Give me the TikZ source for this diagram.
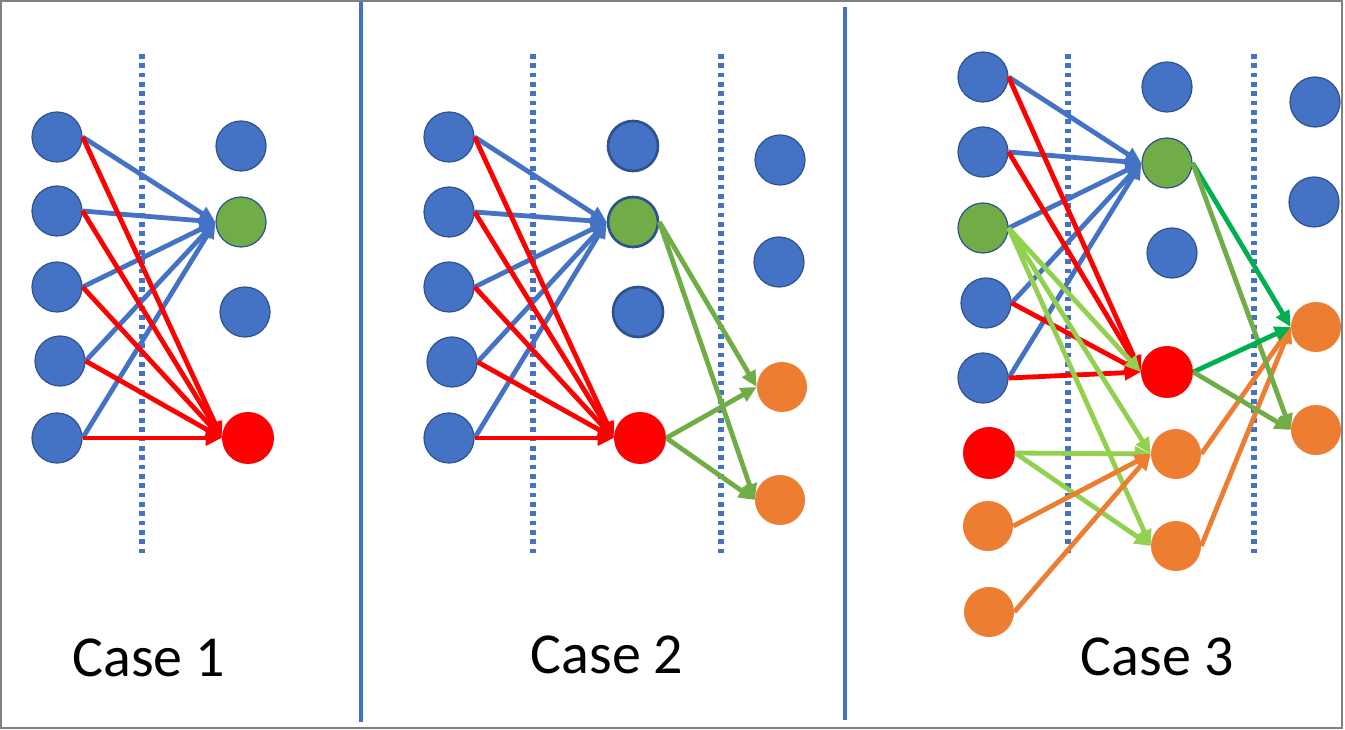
\documentclass[tikz,border=0pt]{standalone}
\usepackage{fontspec}
\setmainfont{Carlito}
\usetikzlibrary{arrows.meta}
\definecolor{nblue}{HTML}{4472C4}
\definecolor{nborder}{HTML}{2F528F}
\definecolor{ngreen}{HTML}{70AD47}
\definecolor{nred}{HTML}{FF0000}
\definecolor{norange}{HTML}{ED7D31}
\definecolor{lgreen}{HTML}{92D050}
\definecolor{dgreen}{HTML}{00B050}
\definecolor{framegray}{HTML}{808080}
\begin{document}
\begin{tikzpicture}[x=0.75pt,y=-0.75pt,
  neuron/.style={circle, minimum size=37.5pt, inner sep=0pt},
  bluen/.style={neuron, fill=nblue, draw=nborder, line width=0.9pt},
  bluethick/.style={neuron, fill=nblue, draw=nborder, line width=2pt},
  greenn/.style={neuron, fill=ngreen, draw=nborder, line width=0.9pt},
  greenthick/.style={neuron, fill=ngreen, draw=nborder, line width=2pt},
  redn/.style={neuron, fill=nred, minimum size=39pt},
  orangen/.style={neuron, fill=norange},
  arr/.style={line width=3.6pt, -{Triangle[length=12pt,width=11pt]}},
  barr/.style={arr, draw=nblue},
  rarr/.style={arr, draw=nred},
  garr/.style={arr, draw=ngreen},
  lgarr/.style={arr, draw=lgreen},
  dgarr/.style={arr, draw=dgreen},
  oarr/.style={arr, draw=norange},
  dotline/.style={draw=nblue, line width=3.9pt, dash pattern=on 3.6pt off 3.4pt},
  divider/.style={draw=nblue, line width=2.6pt},
  caption/.style={font=\fontsize{43.5pt}{50pt}\selectfont, anchor=base, inner sep=0pt},
]
\useasboundingbox (0,0) rectangle (1345,730);
\draw[framegray, line width=1.5pt] (1,1) rectangle (1342,728);

% dividers
\draw[divider] (361,2) -- (361,722);
\draw[divider] (845,7) -- (845,720);

% dotted lines
\foreach \x in {142,533,721,1068,1254}
  \draw[dotline] (\x,54) -- (\x,554);

% ---------- Case 1 ----------
\node[bluen] (c1a1) at (57,137) {};
\node[bluen] (c1a2) at (57,211) {};
\node[bluen] (c1a3) at (57,287) {};
\node[bluen] (c1a4) at (60,361) {};
\node[bluen] (c1a5) at (57,438) {};
\node[bluen] (c1b1) at (241,146) {};
\node[greenn] (c1b2) at (241,222) {};
\node[bluen] (c1b3) at (245,312) {};
\node[redn] (c1b4) at (248,438) {};
\foreach \i in {1,...,5} {
  \draw[barr] (c1a\i.east) -- (c1b2.west);
}
\foreach \i in {1,...,5} {
  \draw[rarr] (c1a\i.east) -- (c1b4.west);
}
\node[caption] (t1) at (149,676) {Case 1};

% ---------- Case 2 ----------
\node[bluen] (c2a1) at (449,137) {};
\node[bluen] (c2a2) at (449,212) {};
\node[bluen] (c2a3) at (449,287) {};
\node[bluen] (c2a4) at (452,362) {};
\node[bluen] (c2a5) at (449,438) {};
\node[bluethick] (c2b1) at (633,146) {};
\node[greenthick] (c2b2) at (633,222) {};
\node[bluethick] (c2b3) at (638,312) {};
\node[redn] (c2b4) at (640,438) {};
\node[bluen] (c2c1) at (780,160) {};
\node[bluen] (c2c2) at (779,262) {};
\node[orangen] (c2c3) at (782,387) {};
\node[orangen] (c2c4) at (780,500) {};
\foreach \i in {1,...,5} {
  \draw[barr] (c2a\i.east) -- (c2b2.west);
}
\foreach \i in {1,...,5} {
  \draw[rarr] (c2a\i.east) -- (c2b4.west);
}
\draw[garr] (c2b2.east) -- (c2c3.west);
\draw[garr] (c2b2.east) -- (c2c4.west);
\draw[garr] (c2b4.east) -- (c2c3.west);
\draw[garr] (c2b4.east) -- (c2c4.west);
\node[caption] (t2) at (607,673) {Case 2};

% ---------- Case 3 ----------
\node[bluen] (c3a1) at (983,77) {};
\node[bluen] (c3a2) at (983,152) {};
\node[greenn] (c3a3) at (983,228) {};
\node[bluen] (c3a4) at (986,303) {};
\node[bluen] (c3a5) at (983,378) {};
\node[redn] (c3a6) at (989,453) {};
\node[orangen] (c3a7) at (988,526) {};
\node[orangen] (c3a8) at (989,612) {};
\node[bluen] (c3b1) at (1167,87) {};
\node[greenn] (c3b2) at (1167,163) {};
\node[bluen] (c3b3) at (1172,253) {};
\node[redn] (c3b4) at (1167,372) {};
\node[orangen] (c3b5) at (1176,454) {};
\node[orangen] (c3b6) at (1176,546) {};
\node[bluen] (c3c1) at (1315,102) {};
\node[bluen] (c3c2) at (1314,202) {};
\node[orangen] (c3c3) at (1316,327) {};
\node[orangen] (c3c4) at (1316,430) {};
\foreach \i in {1,2,3,4,5} {
  \draw[barr] (c3a\i.east) -- (c3b2.west);
}
\foreach \i in {1,2,4,5} {
  \draw[rarr] (c3a\i.east) -- (c3b4.west);
}
\draw[lgarr] (c3a3.east) -- (c3b4.west);
\draw[lgarr] (c3a3.east) -- (c3b5.west);
\draw[lgarr] (c3a3.east) -- (c3b6.west);
\draw[lgarr] (c3a6.east) -- (c3b5.west);
\draw[lgarr] (c3a6.east) -- (c3b6.west);
\draw[oarr] (c3a7.east) -- (c3b5.west);
\draw[oarr] (c3a8.east) -- (c3b5.west);
\draw[oarr] (c3b5.east) -- (c3c3.west);
\draw[oarr] (c3b6.east) -- (c3c3.west);
\draw[dgarr] (c3b2.east) -- (c3c3.west);
\draw[garr] (c3b2.east) -- (c3c4.west);
\draw[dgarr] (c3b4.east) -- (c3c3.west);
\draw[garr] (c3b4.east) -- (c3c4.west);
\node[caption] (t3) at (1157,675) {Case 3};
\end{tikzpicture}
\end{document}
